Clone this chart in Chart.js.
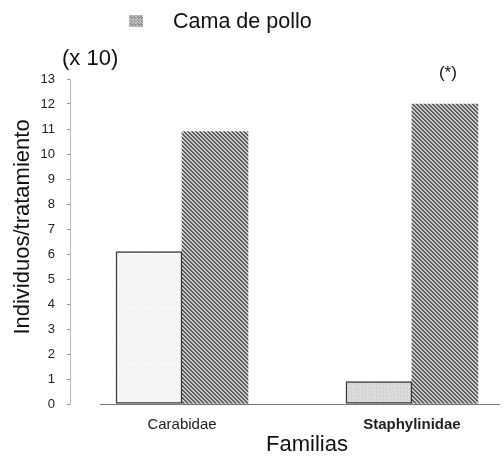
<!DOCTYPE html>
<html><head><meta charset="utf-8">
<script src="https://cdn.jsdelivr.net/npm/chart.js@4/dist/chart.umd.min.js"></script>
<style>html,body{margin:0;padding:0;background:#fff}#wrap{width:503px;height:456px}</style>
</head><body><div id="wrap"><canvas id="c" width="503" height="456"></canvas></div>
<script>
// ---- data ----
const categories = ['Carabidae', 'Staphylinidae'];
const camaDePollo = [6.1, 0.9];
const segundaSerie = [10.9, 12.0];
const seriesLabels = ['Cama de pollo', ''];
const significance = ['', '(*)'];
const yTickValues = [0,1,2,3,4,5,6,7,8,9,10,11,12,13];
const unitNote = '(x 10)';
const xTitle = 'Familias';
const yTitle = 'Individuos/tratamiento';

const FONT = "'Liberation Sans', Arial, Helvetica, sans-serif";

function makeHatch() {
  const s = 4, cv = document.createElement('canvas');
  cv.width = s; cv.height = s;
  const g = cv.getContext('2d'), img = g.createImageData(s, s);
  for (let y = 0; y < s; y++) for (let x = 0; x < s; x++) {
    const dark = (((x - y) % s) + s) % s < 2;
    const v = dark ? 90 : 205, i = (y * s + x) * 4;
    img.data[i] = img.data[i+1] = img.data[i+2] = v; img.data[i+3] = 255;
  }
  g.putImageData(img, 0, 0);
  return document.getElementById('c').getContext('2d').createPattern(cv, 'repeat');
}
function makeSpeckle(base, spread) {
  const s = 7, cv = document.createElement('canvas');
  cv.width = s; cv.height = s;
  const g = cv.getContext('2d'), img = g.createImageData(s, s);
  for (let y = 0; y < s; y++) for (let x = 0; x < s; x++) {
    const k = (x * 3 + y * 5 + x * y) % 4;
    const v = base - k * spread, i = (y * s + x) * 4;
    img.data[i] = img.data[i+1] = img.data[i+2] = v; img.data[i+3] = 255;
  }
  g.putImageData(img, 0, 0);
  return document.getElementById('c').getContext('2d').createPattern(cv, 'repeat');
}
const hatch = makeHatch();
const speckleLight = makeSpeckle(250, 3);
const speckleGrey = makeSpeckle(225, 6);
const legendSpeckle = makeSpeckle(205, 22);

const extras = {
  id: 'extras',
  beforeDraw(chart) {
    const c = chart.ctx;
    c.save(); c.fillStyle = '#fff'; c.fillRect(0, 0, chart.width, chart.height); c.restore();
  },
  afterDraw(chart) {
    const c = chart.ctx, a = chart.chartArea;
    c.save();
    // x axis line
    c.strokeStyle = '#777'; c.lineWidth = 1;
    c.beginPath(); c.moveTo(100, a.bottom + 0.5); c.lineTo(500, a.bottom + 0.5); c.stroke();
    // legend (single entry)
    c.fillStyle = legendSpeckle; c.fillRect(129, 15, 14, 12);
    c.fillStyle = '#111'; c.textBaseline = 'middle'; c.textAlign = 'left';
    c.font = '21.5px ' + FONT;
    c.fillText(seriesLabels[0], 173, 22);
    // unit note
    c.font = '22px ' + FONT;
    c.fillText(unitNote, 62, 59);
    // axis titles
    c.textAlign = 'center';
    c.fillText(xTitle, 307, 445);
    c.save();
    c.translate(23, 227); c.rotate(-Math.PI / 2);
    c.fillText(yTitle, 0, 0);
    c.restore();
    // significance marks above second series
    const meta = chart.getDatasetMeta(1);
    c.font = '17px ' + FONT;
    significance.forEach((t, i) => {
      if (!t) return;
      const el = meta.data[i];
      c.fillText(t, el.x + 3, el.y - 31);
    });
    c.restore();
  }
};

new Chart(document.getElementById('c'), {
  type: 'bar',
  data: {
    datasets: [
      {
        label: seriesLabels[0],
        data: camaDePollo.map((v, i) => ({ x: i, y: v })),
        backgroundColor: [speckleLight, speckleGrey],
        borderColor: '#3a3a3a', borderWidth: 1.5, borderSkipped: false,
        barThickness: 66
      },
      {
        label: seriesLabels[1],
        data: segundaSerie.map((v, i) => ({ x: i, y: v })),
        backgroundColor: hatch,
        borderColor: '#777', borderWidth: 0,
        barThickness: 66
      }
    ]
  },
  options: {
    responsive: false, animation: false, devicePixelRatio: 1,
    layout: { padding: { top: 79, right: 3, left: 0, bottom: 0 } },
    plugins: { legend: { display: false }, tooltip: { enabled: false } },
    scales: {
      x: {
        type: 'linear', min: -0.487, max: 1.383, offset: false,
        afterBuildTicks: s => { s.ticks = categories.map((_, i) => ({ value: i })); },
        afterFit: s => { s.height = 52; },
        grid: { display: false, drawTicks: false, offset: false },
        border: { display: false },
        ticks: {
          padding: 12, color: '#222',
          callback: v => categories[v],
          font: ctx => ({ family: FONT, size: 15, weight: ctx.index === 1 ? 'bold' : 'normal' })
        },
        title: { display: false }
      },
      y: {
        min: 0, max: 13,
        afterBuildTicks: s => { s.ticks = yTickValues.map(v => ({ value: v })); },
        afterFit: s => { s.width = 70; },
        grid: { drawOnChartArea: false, drawTicks: true, tickLength: 3, color: '#999' },
        border: { display: true, color: '#bbb', dash: [2, 3] },
        ticks: { padding: 12, color: '#222', font: { family: FONT, size: 13 } },
        title: { display: false }
      }
    }
  },
  plugins: [extras]
});
</script>
</body></html>
